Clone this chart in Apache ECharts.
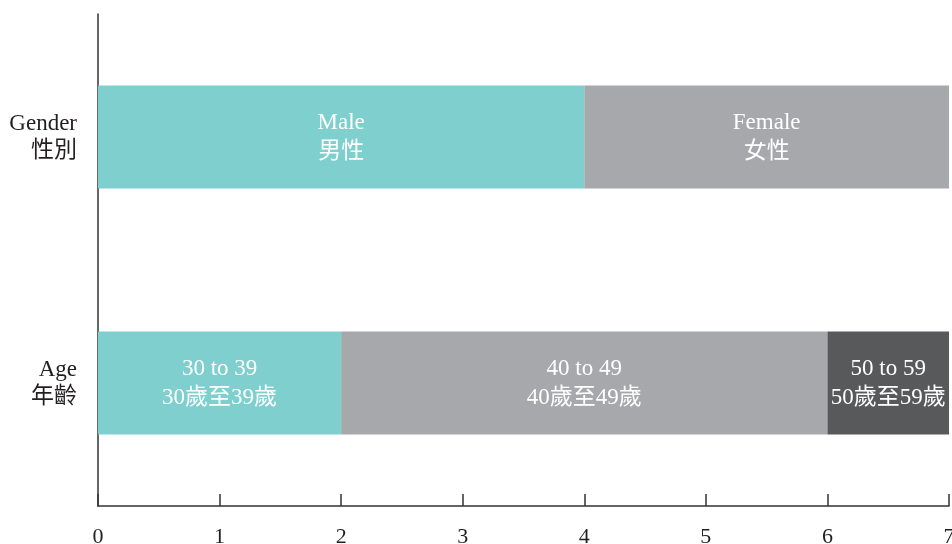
<!DOCTYPE html>
<html>
<head>
<meta charset="utf-8">
<script src="https://cdn.jsdelivr.net/npm/echarts@6/dist/echarts.min.js"></script>
<style>html,body{margin:0;padding:0;background:#fff;}#c{width:952px;height:544px;}</style>
</head>
<body>
<div id="c"></div>
<script>
var categories = ['Age\n年齡', 'Gender\n性別'];
// segment 1: Age 30-39, Gender Male
var seg1Values = [2, 4];
var seg1Labels = ['30 to 39\n30歲至39歲', 'Male\n男性'];
// segment 2: Age 40-49, Gender Female
var seg2Values = [4, 3];
var seg2Labels = ['40 to 49\n40歲至49歲', 'Female\n女性'];
// segment 3: Age 50-59
var seg3Values = [1, null];
var seg3Labels = ['50 to 59\n50歲至59歲', ''];
var xTicks = [0, 1, 2, 3, 4, 5, 6, 7];

var FONT = '"Liberation Serif", "Noto Sans CJK TC", serif';
function mk(vals, labels, color) {
  return {
    type: 'bar', stack: 'a', barWidth: 103,
    itemStyle: { color: color },
    label: {
      show: true, position: 'inside', color: '#fff', fontFamily: FONT, fontSize: 23, lineHeight: 29,
      formatter: function (p) { return labels[p.dataIndex]; }
    },
    data: vals
  };
}
var chart = echarts.init(document.getElementById('c'));
chart.setOption({
  animation: false,
  grid: { left: 98, right: 3, top: 14, bottom: 38, outerBoundsMode: 'none', containLabel: false },
  xAxis: {
    type: 'value', min: xTicks[0], max: xTicks[xTicks.length - 1], interval: 1,
    splitLine: { show: false },
    axisLine: { show: true, lineStyle: { color: '#333', width: 1.5 } },
    axisTick: { show: true, inside: true, length: 12, lineStyle: { color: '#333', width: 1.5 } },
    axisLabel: { color: '#231f20', fontFamily: FONT, fontSize: 22, margin: 20,
      formatter: function (v) { return String(v); } }
  },
  yAxis: {
    type: 'category', data: categories,
    axisLine: { show: true, lineStyle: { color: '#333', width: 1.5 } },
    axisTick: { show: false },
    axisLabel: { color: '#231f20', fontFamily: FONT, fontSize: 23, lineHeight: 27, margin: 21, align: 'right' }
  },
  series: [
    mk(seg1Values, seg1Labels, '#7fcfcf'),
    mk(seg2Values, seg2Labels, '#a7a8ab'),
    mk(seg3Values, seg3Labels, '#58595b')
  ]
});
</script>
</body>
</html>
